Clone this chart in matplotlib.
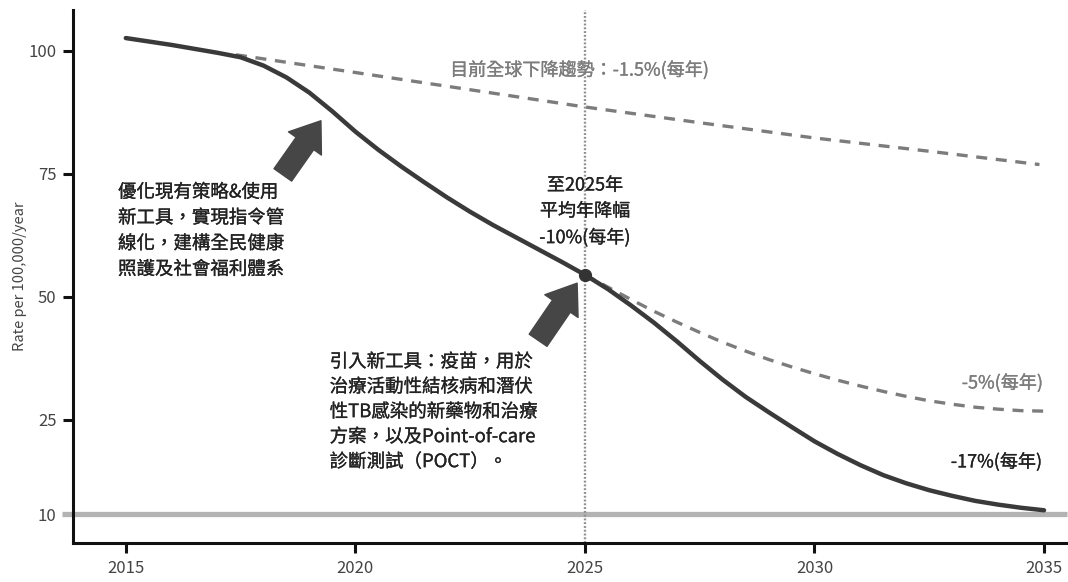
import numpy as np
import matplotlib
matplotlib.use("Agg")
import matplotlib.pyplot as plt
import matplotlib.patheffects as pe

plt.rcParams['font.family'] = ['Noto Sans CJK TC', 'DejaVu Sans']

# ---------------- data ----------------
main_years = [2015.0, 2015.5, 2016.0, 2016.5, 2017.0, 2017.5, 2018.0, 2018.5, 2019.0, 2019.5,
              2020.0, 2020.5, 2021.0, 2021.5, 2022.0, 2022.5, 2023.0, 2023.5, 2024.0, 2024.5,
              2025.0, 2025.5, 2026.0, 2026.5, 2027.0, 2027.5, 2028.0, 2028.5, 2029.0, 2029.5,
              2030.0, 2030.5, 2031.0, 2031.5, 2032.0, 2032.5, 2033.0, 2033.5, 2034.0, 2034.5,
              2035.0]
main_rate = [102.6, 101.9, 101.2, 100.4, 99.6, 98.7, 97.0, 94.6, 91.5, 87.7,
             83.6, 79.9, 76.5, 73.3, 70.2, 67.3, 64.6, 62.1, 59.6, 57.1,
             54.5, 51.6, 48.3, 44.8, 41.0, 37.0, 33.2, 29.7, 26.6, 23.9,
             21.6, 19.6, 17.8, 16.2, 14.9, 13.8, 12.9, 12.1, 11.5, 11.0,
             10.6]

trend_years = [2017.4, 2020.0, 2022.5, 2025.0, 2027.5, 2030.0, 2032.5, 2034.9]
trend_rate = [99.2, 95.6, 92.1, 88.6, 85.4, 82.3, 79.6, 76.9]

slow_years = [2025.0, 2025.5, 2026.0, 2026.5, 2027.0, 2027.5, 2028.0, 2028.5, 2029.0, 2029.5,
              2030.0, 2030.5, 2031.0, 2031.5, 2032.0, 2032.5, 2033.0, 2033.5, 2034.0, 2034.5,
              2035.0]
slow_rate = [54.5, 52.0, 49.5, 47.1, 44.9, 42.8, 40.8, 39.0, 37.3, 35.8,
             34.4, 33.1, 31.9, 30.8, 29.8, 28.9, 28.2, 27.6, 27.2, 26.9,
             26.8]

milestone_year = 2025
milestone_rate = 54.5
target_rate = 10

x_ticks = [2015, 2020, 2025, 2030, 2035]
y_ticks = [10, 25, 50, 75, 100]
y_label = "Rate per 100,000/year"

txt_left = "優化現有策略&使用\n新工具，實現指令管\n線化，建構全民健康\n照護及社會福利體系"
txt_tools = "引入新工具：疫苗，用於\n治療活動性結核病和潛伏\n性TB感染的新藥物和治療\n方案，以及Point-of-care\n診斷測試（POCT）。"
txt_2025 = "至2025年\n平均年降幅\n-10%(每年)"
txt_trend = "目前全球下降趨勢：-1.5%(每年)"
txt_5 = "-5%(每年)"
txt_17 = "-17%(每年)"

# ---------------- scale (different spacing below 25) ----------------
K = (94 / 15) / (369 / 75)

def fwd(v):
    v = np.asarray(v, dtype=float)
    return np.where(v >= 25, v, 25 - (25 - v) * K)

def inv(d):
    d = np.asarray(d, dtype=float)
    return np.where(d >= 25, d, 25 - (25 - d) / K)

# ---------------- figure ----------------
fig = plt.figure(figsize=(10.68, 5.82), dpi=100)
ax = fig.add_axes([73 / 1068, 39 / 582, 994 / 1068, 533 / 582])
ax.set_yscale('function', functions=(fwd, inv))
ax.set_xlim(2013.85, 2035.5)
ax.set_ylim(5.38, 108.3)

dark = '#3a3a3a'
gray = '#7c7c7c'

# target line
ax.axhline(target_rate, xmin=-0.011, xmax=1.0, color='#b3b3b3', lw=3.8,
           clip_on=False, zorder=1.5, solid_capstyle='butt')
# vertical dotted line
ax.axvline(milestone_year, color='#8f8f8f', lw=1.7, ls=(0, (0.8, 0.8)), zorder=1.6)

ax.plot(trend_years, trend_rate, color=gray, lw=2.4, ls=(0, (3.3, 2.6)), zorder=2)
ax.plot(slow_years, slow_rate, color=gray, lw=2.4, ls=(0, (3.3, 2.6)), zorder=2)
ax.plot(main_years, main_rate, color=dark, lw=3.2, zorder=3,
        solid_capstyle='round', solid_joinstyle='round')
ax.plot([milestone_year], [milestone_rate], 'o', color='#333333', ms=8.5, zorder=4)

# arrows
arrow_kw = dict(arrowstyle='simple,head_length=2.0,head_width=2.9,tail_width=1.55',
                color='#464646', shrinkA=0, shrinkB=0, mutation_scale=10)
ax.annotate('', xy=(2019.25, 85.8), xytext=(2018.42, 74.8), arrowprops=arrow_kw, zorder=3)
ax.annotate('', xy=(2024.83, 52.8), xytext=(2023.98, 41.2), arrowprops=arrow_kw, zorder=3)

# texts
tc = '#222222'

def thick(c):
    return [pe.withStroke(linewidth=0.2, foreground=c)]

ax.text(2014.83, 63.4, txt_left, fontsize=13.3, color=tc, ha='left', va='center',
        linespacing=1.55, path_effects=thick(tc))
ax.text(2019.44, 26.6, txt_tools, fontsize=13.3, color=tc, ha='left', va='center',
        linespacing=1.5, path_effects=thick(tc))
ax.text(2025.0, 67.3, txt_2025, fontsize=13, color=tc, ha='center', va='center',
        linespacing=1.55, multialignment='center', path_effects=thick(tc))
ax.text(2024.88, 96.1, txt_trend, fontsize=13, color=gray, ha='center', va='center',
        path_effects=thick(gray))
ax.text(2034.98, 32.5, txt_5, fontsize=13, color=gray, ha='right', va='center',
        path_effects=thick(gray))
ax.text(2034.96, 18.3, txt_17, fontsize=13, color=tc, ha='right', va='center',
        path_effects=thick(tc))

# axes styling
for s in ['top', 'right']:
    ax.spines[s].set_visible(False)
for s in ['left', 'bottom']:
    ax.spines[s].set_linewidth(2.2)
    ax.spines[s].set_color('#111111')

ax.set_xticks(x_ticks)
ax.set_xticklabels([str(x) for x in x_ticks])
ax.set_yticks(y_ticks)
ax.set_yticklabels([str(y) for y in y_ticks])
ax.yaxis.set_minor_locator(matplotlib.ticker.NullLocator())
ax.tick_params(axis='both', which='major', length=7, width=2.2, color='#111111',
               labelsize=12, labelcolor='#444444', pad=5)
for t in ax.yaxis.get_major_ticks():
    if abs(t.get_loc() - target_rate) < 1e-6:
        t.tick1line.set_visible(False)

ax.set_ylabel(y_label, fontsize=10.5, color='#444444', labelpad=1)

fig.savefig('out.png', dpi=100)
